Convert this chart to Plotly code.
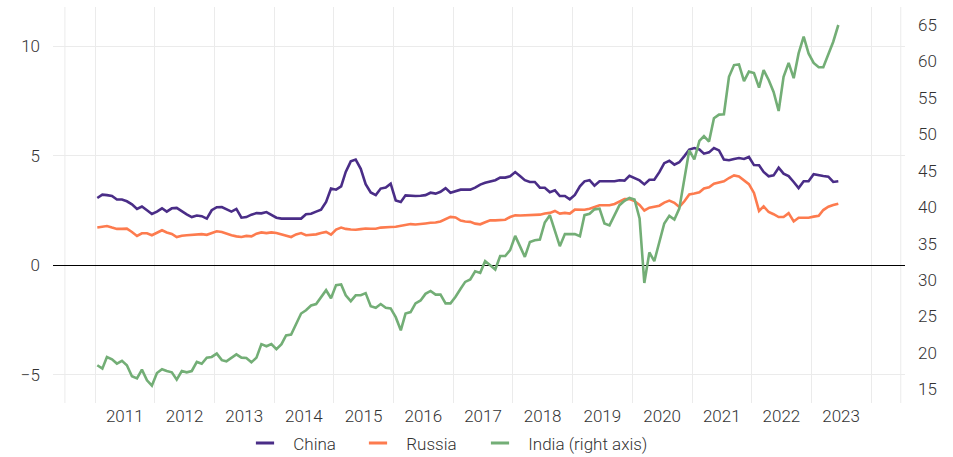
import pandas as pd
import plotly.graph_objects as go

# Monthly observations, January 2011 to June 2023
months = pd.date_range("2011-01-01", periods=150, freq="MS") + pd.Timedelta(days=14)

china = [
    3.07, 3.22, 3.2, 3.16, 3.0, 3.0, 2.92, 2.78, 2.57, 2.68,
    2.51, 2.34, 2.45, 2.6, 2.45, 2.6, 2.62, 2.46, 2.32, 2.2,
    2.27, 2.24, 2.13, 2.51, 2.65, 2.66, 2.57, 2.45, 2.57, 2.17,
    2.2, 2.31, 2.38, 2.37, 2.43, 2.29, 2.17, 2.13, 2.13, 2.13,
    2.13, 2.13, 2.33, 2.35, 2.45, 2.54, 2.89, 3.5, 3.45, 3.6,
    4.26, 4.74, 4.82, 4.4, 3.7, 3.32, 3.2, 3.5, 3.55, 3.72,
    2.96, 2.89, 3.19, 3.16, 3.16, 3.17, 3.2, 3.31, 3.27, 3.35,
    3.52, 3.31, 3.38, 3.45, 3.45, 3.45, 3.54, 3.68, 3.76, 3.83,
    3.88, 4.0, 4.0, 4.06, 4.25, 4.06, 3.88, 3.8, 3.8, 3.54,
    3.54, 3.33, 3.42, 3.16, 3.16, 3.01, 3.21, 3.6, 3.83, 3.88,
    3.63, 3.83, 3.83, 3.83, 3.83, 3.88, 3.86, 4.08, 3.99, 3.87,
    3.69, 3.9, 3.9, 4.25, 4.66, 4.77, 4.59, 4.7, 4.98, 5.28,
    5.35, 5.28, 5.09, 5.15, 5.35, 5.24, 4.82, 4.79, 4.85, 4.89,
    4.85, 4.94, 4.57, 4.56, 4.26, 4.06, 4.1, 4.45, 4.18, 4.07,
    3.8, 3.52, 3.83, 3.83, 4.15, 4.1, 4.07, 4.04, 3.8, 3.83,
]

russia = [
    1.72, 1.76, 1.79, 1.72, 1.66, 1.66, 1.67, 1.52, 1.34, 1.46,
    1.46, 1.37, 1.5, 1.6, 1.5, 1.43, 1.29, 1.35, 1.37, 1.39,
    1.4, 1.42, 1.39, 1.47, 1.55, 1.52, 1.44, 1.37, 1.32, 1.29,
    1.34, 1.32, 1.44, 1.5, 1.47, 1.5, 1.47, 1.41, 1.37, 1.29,
    1.41, 1.47, 1.37, 1.39, 1.41, 1.47, 1.52, 1.4, 1.63, 1.72,
    1.66, 1.63, 1.62, 1.65, 1.68, 1.67, 1.67, 1.72, 1.75, 1.75,
    1.76, 1.8, 1.85, 1.88, 1.86, 1.87, 1.91, 1.94, 1.95, 2.0,
    2.1, 2.21, 2.18, 2.04, 2.0, 1.98, 1.9, 1.87, 1.96, 2.05,
    2.05, 2.07, 2.08, 2.2, 2.28, 2.27, 2.28, 2.3, 2.3, 2.31,
    2.36, 2.39, 2.48, 2.36, 2.39, 2.36, 2.54, 2.52, 2.53, 2.58,
    2.67, 2.74, 2.74, 2.74, 2.8, 2.92, 3.02, 3.02, 2.93, 2.75,
    2.5, 2.63, 2.69, 2.72, 2.86, 2.95, 2.85, 2.66, 2.92, 3.23,
    3.27, 3.33, 3.5, 3.56, 3.72, 3.78, 3.83, 3.98, 4.1, 4.05,
    3.88, 3.7, 3.3, 2.48, 2.69, 2.43, 2.33, 2.2, 2.2, 2.38,
    2.0, 2.17, 2.17, 2.17, 2.22, 2.26, 2.52, 2.67, 2.75, 2.81,
]

india = [
    18.3, 17.84, 19.44, 19.12, 18.53, 18.9, 18.3, 16.8, 16.5, 17.7,
    16.24, 15.5, 17.24, 17.75, 17.51, 17.33, 16.33, 17.51, 17.33, 17.51,
    18.75, 18.5, 19.35, 19.44, 19.9, 19.0, 18.85, 19.35, 19.8, 19.35,
    19.3, 18.7, 19.35, 21.2, 20.9, 21.2, 20.5, 21.2, 22.4, 22.5,
    24.0, 25.4, 25.85, 26.5, 26.7, 27.7, 28.6, 27.5, 29.3, 29.4,
    27.9, 27.1, 27.9, 27.9, 28.2, 26.4, 26.2, 26.7, 26.2, 26.1,
    24.9, 23.1, 25.4, 25.6, 26.8, 27.2, 28.1, 28.5, 28.0, 28.0,
    26.8, 26.8, 27.7, 28.8, 29.74, 30.07, 31.2, 30.98, 32.6, 32.03,
    31.44, 33.3, 33.3, 34.1, 36.06, 34.55, 33.17, 35.23, 35.47, 35.56,
    37.9, 38.9, 36.6, 34.64, 36.3, 36.3, 36.3, 36.0, 38.9, 39.1,
    39.7, 39.8, 37.76, 37.5, 38.9, 40.27, 40.87, 41.28, 41.05, 38.45,
    29.6, 33.78, 32.58, 35.2, 37.76, 38.8, 38.3, 39.8, 43.7, 47.8,
    46.55, 49.1, 49.75, 49.0, 52.2, 52.7, 52.75, 57.9, 59.5, 59.6,
    57.3, 58.6, 58.4, 56.4, 58.8, 57.45, 55.8, 53.2, 57.9, 59.8,
    57.7, 61.1, 63.4, 61.1, 59.8, 59.2, 59.2, 61.1, 62.7, 65.0,
]

year_labels = [str(y) for y in range(2011, 2024)]
year_label_pos = [f"{y}-07-02" for y in range(2011, 2024)]
left_ticks = [-5, 0, 5, 10]
right_ticks = [15, 20, 25, 30, 35, 40, 45, 50, 55, 60, 65]

PURPLE = "#4a2d87"
ORANGE = "#fd7b4e"
GREEN = "#73ae76"
GRID = "#ebebeb"
TEXT = "#333333"
FONT = dict(family="Roboto", size=17, color=TEXT, weight=300)
W, H = 953, 457

fig = go.Figure()

# name, values, colour, y axis, legend id, legend key centre (px)
series = [
    ("China", china, PURPLE, "y", "legend", 265),
    ("Russia", russia, ORANGE, "y", "legend2", 378),
    ("India (right axis)", india, GREEN, "y2", "legend3", 500),
]

for name, values, color, axis, _, _ in series:
    fig.add_trace(go.Scatter(
        x=months, y=values, mode="lines", name=name, yaxis=axis,
        line=dict(color=color, width=2.6), showlegend=False,
        hoverinfo="x+y+name",
    ))

# Short dash keys, one legend box per series
legends = {}
for name, values, color, axis, leg, key_x in series:
    fig.add_trace(go.Scatter(
        x=[None], y=[None], mode="markers", name="\u00a0\u00a0" + name,
        yaxis=axis, legend=leg,
        marker=dict(symbol="line-ew-open", size=13, color=color,
                    line=dict(color=color, width=3)),
        showlegend=True,
    ))
    legends[leg] = dict(
        xref="container", yref="container",
        x=(key_x - 20) / W, xanchor="left",
        y=(H - 443.5) / H, yanchor="middle",
        font=FONT, itemsizing="trace", bgcolor="rgba(0,0,0,0)",
        borderwidth=0,
    )

# Light frame lines at the half-year edges of the plotting area
for edge in ["2010-07-01", "2024-07-01"]:
    fig.add_shape(type="line", xref="x", yref="paper", x0=edge, x1=edge,
                  y0=0, y1=1, line=dict(color=GRID, width=1), layer="below")

fig.update_layout(
    width=W, height=H,
    margin=dict(l=53, r=48, t=7, b=54, autoexpand=False),
    paper_bgcolor="white", plot_bgcolor="white",
    font=FONT,
    showlegend=True,
    xaxis=dict(
        type="date", range=["2010-04-19", "2024-07-27"], automargin=False,
        tickmode="array", tickvals=year_label_pos, ticktext=year_labels,
        showgrid=False, ticks="", showline=False, zeroline=False,
        ticklabelstandoff=1, tickfont=FONT,
        minor=dict(dtick="M12", tick0="2011-01-01", showgrid=True,
                   gridcolor=GRID, gridwidth=1, ticks=""),
    ),
    yaxis=dict(
        range=[-6.28, 11.78], tickmode="array", tickvals=left_ticks,
        automargin=False,
        showgrid=True, gridcolor=GRID, gridwidth=1,
        zeroline=True, zerolinecolor="#000000", zerolinewidth=1,
        ticks="", showline=False, ticklabelstandoff=12, tickfont=FONT,
    ),
    yaxis2=dict(
        range=[13.12, 67.47], tickmode="array", tickvals=right_ticks,
        automargin=False,
        overlaying="y", side="right", showgrid=False, zeroline=False,
        ticks="", showline=False, ticklabelstandoff=12, tickfont=FONT,
    ),
    **legends,
)

fig.write_html("out.html")
